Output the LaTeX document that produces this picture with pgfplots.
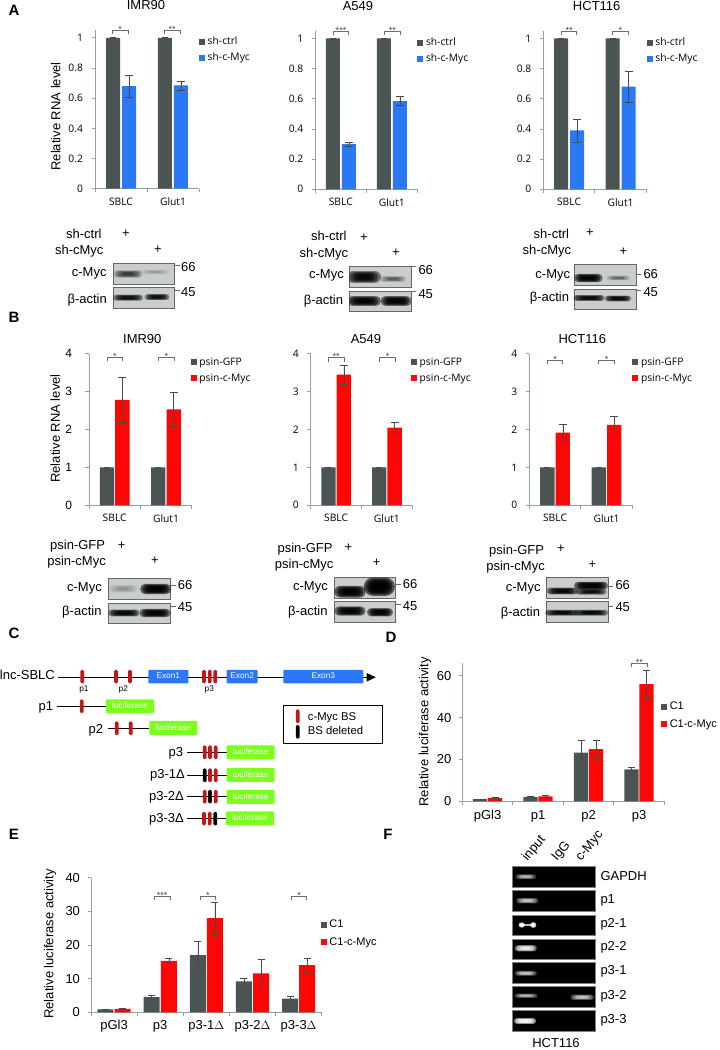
\documentclass[border=0pt]{standalone}
\usepackage{pgfplots}
\pgfplotsset{compat=1.18}
\usepackage{fontspec}
\setmainfont{Liberation Sans}
\newfontfamily\os{Open Sans}
\newcommand\fa{\os\fontsize{10.3}{12}\selectfont}
\newcommand\fb{\fontsize{13}{15}\selectfont}
\newcommand\fc{\fontsize{11}{13}\selectfont}
\definecolor{dk}{HTML}{4A5454}
\definecolor{blu}{HTML}{2A78F5}
\definecolor{rd}{HTML}{FF0505}
\definecolor{axc}{HTML}{8FA3A3}
\definecolor{errc}{HTML}{4A4A4A}
\definecolor{mk}{HTML}{C01818}
\definecolor{lim}{HTML}{7CFF1E}
\definecolor{gelbg}{HTML}{C9CDCD}
\pgfplotsset{
 base/.style={scale only axis,axis x line=bottom,axis y line=left,
  axis line style={-,axc,line width=.8pt},tick style={axc,line width=.8pt},
  tick align=outside,major tick length=3.5pt,minor tick length=3.5pt,
  major x tick style={draw=none},xmin=0,ymin=0,clip=false,
  /pgf/number format/assume math mode=true,
  legend cell align=left},
 leg/.style n args={3}{legend style={at={(axis description cs:#1,#2)},anchor=north west,draw=none,fill=none,inner sep=0pt,outer sep=0pt,row sep=#3,
  /tikz/every odd column/.append style={column sep=2.7pt},
  nodes={inner sep=0pt,text height=8pt,text depth=2pt}}},
 eb/.style 2 args={error bars/.cd,y dir=both,y explicit,error bar style={errc,line width=.5pt,xshift=#2},error mark options={errc,rotate=90,mark size=#1,line width=.5pt}},
 serD/.style={ybar,fill=dk,draw=none,legend image code/.code={\fill[dk] (0pt,-3pt) rectangle (6pt,3pt);}},
 serB/.style={ybar,fill=blu,draw=none,legend image code/.code={\fill[blu] (0pt,-3pt) rectangle (6pt,3pt);}},
 serR/.style={ybar,fill=rd,draw=none,legend image code/.code={\fill[rd] (0pt,-3pt) rectangle (6pt,3pt);}},
 chartA/.style={base,xmax=2,ymax=1.051,height=158.5pt,ytick={0,0.2,0.4,0.6,0.8,1},
  xtick={0.5,1.5},xticklabels={SBLC,Glut1},minor xtick={0,1,2},
  xticklabel style={font=\fa,yshift=-2pt},yticklabel style={font=\fa,xshift=-5pt},
  legend style={font=\fa},legend entries={sh-ctrl,sh-c-Myc},bar width=14pt},
 chartB/.style={base,xmax=2,ymax=4,height=151.6pt,ytick={0,1,2,3,4},
  xtick={0.5,1.5},xticklabels={SBLC,Glut1},minor xtick={0,1,2},
  xticklabel style={font=\fa,yshift=-2pt},yticklabel style={font=\fa,xshift=-5pt},
  legend style={font=\fa},legend entries={psin-GFP,psin-c-Myc},bar width=14.3pt},
}
\tikzset{
 tx/.style={inner sep=0pt,text height=9.3pt,text depth=2.7pt,font=\fb},
 txs/.style={inner sep=0pt,text height=6pt,text depth=1.6pt,font=\fontsize{8.3}{10}\selectfont},
}
\newcommand\brk[5]{\draw[gray!85!black,line width=.5pt] (#1,#4) -- (#1,#3) -- (#2,#3) -- (#2,#4);
 \node[inner sep=0pt,font=\fontsize{9}{10}\selectfont,text=black!75] at ({(#1+#2)/2},#3-1) {#5};}
\newcommand\rt[3]{\node[tx,anchor=east] at (#1,#2) {#3};}
\newcommand\lf[3]{\node[tx,anchor=west] at (#1,#2) {#3};}
\newcommand\ct[3]{\node[tx,anchor=center] at (#1,#2) {#3};}
\newcommand\band[6]{\foreach \k in {1.3,1.1,.9,.7,.5}{\fill[#5,opacity=#6,rounded corners={#4*\k pt}] ({#1-#3*\k},{#2-#4*\k}) rectangle ({#1+#3*\k},{#2+#4*\k});}}
\newcommand\gel[5][gelbg]{\fill[#1] (#2,#4) rectangle (#3,#5);\draw[black!60,line width=.5pt] (#2,#4) rectangle (#3,#5);}
\newcommand\agel[4]{\fill[black] (#1,#3) rectangle (#2,#4);\draw[black!50,line width=.5pt] (#1,#3) rectangle (#2,#4);}
\newcommand\mw[6]{% x1 tick y66 text y66 tick y45 text y45 textx
 \draw[black!60,line width=.5pt] (#1,#2) -- (#1+5,#2); \draw[black!60,line width=.5pt] (#1,#4) -- (#1+5,#4);
 \lf{#6}{#3}{66}\lf{#6}{#5}{45}}
\newcommand\m[3]{\fill[#3,rounded corners=1.4pt] (#1-1.9,#2-6.8) rectangle (#1+1.9,#2+6.8);}
\newcommand\luc[3]{\fill[lim,rounded corners=.8pt] (#1,#2) rectangle (#1+48,#2+14);\node[txs,text=white] at (#1+24,#2+7) {#3};}
\newcommand\exon[3]{\fill[blu,rounded corners=.8pt] (#1,670) rectangle (#2,683.3);\node[txs,text=white] at ({(#1+#2)/2},676.3) {#3};}
\begin{document}
\begin{tikzpicture}
\path[use as bounding box] (0pt,0pt) rectangle (720pt,1050pt);
% ---- Panel A
\begin{axis}[chartA,at={(95pt,861.3pt)},anchor=south west,width=104pt,leg={1.0}{.958}{6pt},
 ylabel={Relative RNA level},ylabel style={at={(axis description cs:-.378,.456)},anchor=center,font=\fb}]
\addplot[serD,bar shift=-8pt,eb={3pt}{-8pt}] coordinates {(0.5,1)+-(0,0.002) (1.5,1)+-(0,0.002)};
\addplot[serB,bar shift=8pt,eb={4pt}{8pt}] coordinates {(0.5,0.68)+-(0,0.075) (1.5,0.685)+-(0,0.03)};
\end{axis}
\begin{axis}[chartA,at={(315.3pt,860.7pt)},anchor=south west,width=102pt,leg={1.0}{.955}{6pt}]
\addplot[serD,bar shift=-8pt,eb={3pt}{-8pt}] coordinates {(0.5,1)+-(0,0.002) (1.5,1)+-(0,0.002)};
\addplot[serB,bar shift=8pt,eb={4pt}{8pt}] coordinates {(0.5,0.30)+-(0,0.015) (1.5,0.585)+-(0,0.03)};
\end{axis}
\begin{axis}[chartA,at={(543.3pt,860.7pt)},anchor=south west,width=103pt,leg={1.004}{.955}{6pt}]
\addplot[serD,bar shift=-8pt,eb={3pt}{-8pt}] coordinates {(0.5,1)+-(0,0.002) (1.5,1)+-(0,0.002)};
\addplot[serB,bar shift=8pt,eb={4pt}{8pt}] coordinates {(0.5,0.39)+-(0,0.077) (1.5,0.68)+-(0,0.103)};
\end{axis}
% ---- Panel B
\begin{axis}[chartB,at={(89pt,544.7pt)},anchor=south west,width=102.7pt,leg={.99}{.976}{6pt},
 yticklabel style={font=\fontsize{12}{14}\selectfont,xshift=-5pt},
 ylabel={Relative RNA level},ylabel style={at={(axis description cs:-.33,.507)},anchor=center,font=\fb}]
\addplot[serD,bar shift=-7.7pt,eb={3pt}{-7.7pt}] coordinates {(0.5,1)+-(0,0.005) (1.5,1)+-(0,0.005)};
\addplot[serR,bar shift=7.7pt,eb={4pt}{7.7pt}] coordinates {(0.5,2.78)+-(0,0.59) (1.5,2.53)+-(0,0.44)};
\end{axis}
\begin{axis}[chartB,at={(310.7pt,544.7pt)},anchor=south west,width=101.6pt,leg={.987}{.976}{6pt}]
\addplot[serD,bar shift=-7.7pt,eb={3pt}{-7.7pt}] coordinates {(0.5,1)+-(0,0.005) (1.5,1)+-(0,0.005)};
\addplot[serR,bar shift=7.7pt,eb={4pt}{7.7pt}] coordinates {(0.5,3.45)+-(0,0.25) (1.5,2.05)+-(0,0.14)};
\end{axis}
\begin{axis}[chartB,at={(529.3pt,544.7pt)},anchor=south west,width=103pt,leg={1.0}{.976}{6pt}]
\addplot[serD,bar shift=-7.7pt,eb={3pt}{-7.7pt}] coordinates {(0.5,1)+-(0,0.005) (1.5,1)+-(0,0.005)};
\addplot[serR,bar shift=7.7pt,eb={4pt}{7.7pt}] coordinates {(0.5,1.92)+-(0,0.22) (1.5,2.12)+-(0,0.22)};
\end{axis}
% ---- Panel D
\begin{axis}[base,at={(462.3pt,248.7pt)},anchor=south west,width=202pt,height=138pt,xmax=4,ymax=66,
 ytick={0,20,40,60},xtick={0.5,1.5,2.5,3.5},xticklabels={pGl3,p1,p2,p3},minor xtick={0,1,2,3,4},
 xticklabel style={font=\fb,yshift=-2pt},yticklabel style={font=\fb,xshift=-4pt},bar width=14.3pt,
 legend style={font=\fc},legend entries={C1,C1-c-Myc},leg={.984}{.72}{7.4pt},
 ylabel={Relative luciferase activity},ylabel style={at={(axis description cs:-.185,.504)},anchor=center,font=\fb}]
\addplot[serD,bar shift=-7.5pt,eb={3.5pt}{-7.5pt}] coordinates {(0.5,1)+-(0,0.1) (1.5,2)+-(0,0.2) (2.5,23.3)+-(0,5.8) (3.5,15.3)+-(0,1)};
\addplot[serR,bar shift=7.5pt,eb={3.5pt}{7.5pt}] coordinates {(0.5,1.6)+-(0,0.2) (1.5,2.4)+-(0,0.7) (2.5,24.9)+-(0,4.5) (3.5,56)+-(0,6.8)};
\end{axis}
% ---- Panel E
\begin{axis}[base,at={(91pt,37.7pt)},anchor=south west,width=230.7pt,height=134.6pt,xmax=5,ymax=40,
 ytick={0,10,20,30,40},xtick={0.5,1.5,2.5,3.5,4.5},xticklabels={pGl3,p3,p3-1$\Delta$,p3-2$\Delta$,p3-3$\Delta$},minor xtick={0,1,2,3,4,5},
 xticklabel style={font=\fb,yshift=-1pt},yticklabel style={font=\fb,xshift=-4pt},bar width=16pt,
 legend style={font=\fc},legend entries={C1,C1-c-Myc},leg={.996}{.686}{7.4pt},
 ylabel={Relative luciferase activity},ylabel style={at={(axis description cs:-.178,.508)},anchor=center,font=\fb}]
\addplot[serD,bar shift=-8.6pt,eb={3.5pt}{-8.6pt}] coordinates {(0.5,0.9)+-(0,0.1) (1.5,4.5)+-(0,0.5) (2.5,17)+-(0,4) (3.5,9.2)+-(0,0.9) (4.5,4.1)+-(0,0.6)};
\addplot[serR,bar shift=8.6pt,eb={3.5pt}{8.6pt}] coordinates {(0.5,1)+-(0,0.2) (1.5,15.3)+-(0,0.7) (2.5,28)+-(0,4.7) (3.5,11.6)+-(0,4.3) (4.5,14)+-(0,2.2)};
\end{axis}
% ---- annotations in reference pixel coordinates
\begin{scope}[x=1pt,y=-1pt,yshift=1050pt]
% panel letters
\foreach \xx/\yy/\ll in {14/10/A,14/317/B,14/633/C,391/637/D,14/834/E,388/834/F}{\node[inner sep=0pt,font=\bfseries\fontsize{15}{16}\selectfont] at (\xx,\yy) {\ll};}
% titles
\ct{146}{6.7}{IMR90}\ct{358}{7}{A549}\ct{596.7}{7}{HCT116}
\ct{142.3}{340}{IMR90}\ct{366}{340}{A549}\ct{582.3}{340}{HCT116}
% brackets A
\brk{112.3}{128}{30.7}{34.5}{*}\brk{164.3}{180}{30.7}{34.5}{**}
\brk{333.3}{348.7}{31.3}{35}{***}\brk{384.3}{400.3}{31.3}{35}{**}
\brk{561.3}{576.7}{31.3}{35}{**}\brk{612.3}{628.3}{31.3}{35}{*}
% brackets B
\brk{107.3}{122.7}{357}{361.3}{*}\brk{158.3}{174.3}{357}{361.3}{*}
\brk{328.3}{344}{357.7}{362}{**}\brk{379.3}{395.7}{357.7}{362}{*}
\brk{547.3}{562.7}{360}{363.7}{*}\brk{598.3}{614.7}{360}{363.7}{*}
% bracket D, E
\brk{631.7}{647}{663.3}{666.7}{**}
\brk{154.3}{170}{896}{900}{***}\brk{200}{215.7}{896}{900}{*}\brk{291.3}{306.7}{896}{900}{*}
% --- blots A1
\rt{101.7}{235}{sh-ctrl}\ct{126}{234}{+}\rt{103.7}{251.7}{sh-cMyc}\ct{158}{250.7}{+}
\rt{106.7}{273}{c-Myc}\rt{107}{300}{β-actin}
\gel{113}{174.7}{263.3}{284}\gel{113}{174.7}{287.7}{308.3}
\band{128}{274}{11}{2.8}{black}{.22}\band{155}{272}{11}{1.8}{black}{.05}
\band{128}{297.7}{11.5}{2.3}{black}{.4}\band{157}{297}{9.5}{2.3}{black}{.4}
\mw{174.7}{265.7}{268.7}{290.7}{293}{181}
% --- blots A2
\rt{346.7}{237.7}{sh-ctrl}\ct{364}{238.7}{+}\rt{348.3}{254}{sh-cMyc}\ct{396}{253.3}{+}
\rt{344}{275.3}{c-Myc}\rt{343.3}{301.7}{β-actin}
\gel{349.3}{411}{266.7}{287.3}\gel{349.3}{411}{291}{311.7}
\begin{scope}\clip (349.3,266.7) rectangle (411,311.7);
\band{364}{277}{13}{4.5}{black}{.45}\band{393}{279}{10}{2.2}{black}{.14}
\band{364}{301}{13}{3.8}{black}{.5}\band{396}{301}{12}{3.8}{black}{.5}
\end{scope}
\mw{411}{266.7}{271.3}{291.7}{295.3}{418.3}
% --- blots A3
\rt{569.3}{235}{sh-ctrl}\ct{590}{233.3}{+}\rt{571.3}{251.3}{sh-cMyc}\ct{623.3}{252.3}{+}
\rt{570.3}{275.3}{c-Myc}\rt{569.3}{298.3}{β-actin}
\gel{574.3}{636}{264}{285}\gel{574.3}{636}{289}{309.3}
\band{588.3}{278}{11}{3.2}{black}{.5}\band{618.3}{278}{9}{1.8}{black}{.12}
\band{589}{298}{12}{2.2}{black}{.45}\band{618}{298.5}{10}{2.2}{black}{.45}
\mw{636}{274}{275}{290}{293.3}{643.3}
% --- blots B1
\rt{105.3}{546.7}{psin-GFP}\ct{121.7}{546.7}{+}\rt{106}{562.7}{psin-cMyc}\ct{155}{561.7}{+}
\rt{102}{588.7}{c-Myc}\rt{101.7}{612.7}{β-actin}
\gel{108.7}{170.7}{578.3}{599.3}\gel{108.7}{170.7}{603.3}{623.7}
\band{123.3}{588.7}{11}{2.8}{black}{.06}\band{155.7}{589}{12}{4}{black}{.55}
\band{124}{613}{12}{2.6}{black}{.45}\band{155}{613}{12}{3.2}{black}{.5}
\mw{170.7}{585.7}{586.7}{606.7}{608.7}{177.7}
% --- blots B2
\rt{332.7}{549.3}{psin-GFP}\ct{348.3}{548.3}{+}\rt{333.7}{565}{psin-cMyc}\ct{376.7}{563.3}{+}
\rt{328}{587.3}{c-Myc}\rt{327.7}{612.7}{β-actin}
\gel{334.3}{395.7}{577.3}{598.3}\gel{334.3}{395.7}{601}{622.7}
\band{350}{591.7}{12}{4.5}{black}{.55}\band{379.3}{586.7}{12}{7}{black}{.6}
\band{350}{611}{12}{3.6}{black}{.5}\band{380}{612.3}{10}{3.2}{black}{.5}
\mw{395.7}{584}{585}{604.3}{607}{402.7}
% --- blots B3
\rt{544.3}{551}{psin-GFP}\ct{561}{549.3}{+}\rt{545}{567.7}{psin-cMyc}\ct{592.3}{565.7}{+}
\rt{540.7}{588.3}{c-Myc}\rt{540.3}{613.3}{β-actin}
\gel{546}{608}{577.7}{598.7}\gel{546}{608}{601.3}{622.7}
\band{562.3}{591}{12}{2.6}{black}{.45}\band{591}{585.7}{13}{3}{black}{.55}\band{591}{591.7}{12}{2.2}{black}{.4}
\band{562}{612.7}{13}{2.2}{black}{.45}\band{591}{612.7}{13}{2.2}{black}{.45}
\mw{608}{586.3}{586.7}{606.7}{608}{615.3}
% --- panel C
\draw[black,line width=.7pt] (58.3,677.3) -- (367,677.3);
\fill[black] (366.7,673) -- (375.7,677.3) -- (366.7,681.6) -- cycle;
\rt{55}{676.7}{lnc-SBLC}
\exon{148.3}{188.3}{Exon1}\exon{226.7}{257.7}{Exon2}\exon{283.3}{363.3}{Exon3}
\foreach \xx in {82.3,116,130,204,209.7,215.3}{\m{\xx}{676.7}{mk}}
\node[txs] at (84,689.3) {p1};\node[txs] at (123.3,689.3) {p2};\node[txs] at (209.3,689.3) {p3};
% p1
\rt{53.3}{707.7}{p1}\draw[line width=.7pt] (57.3,706.3) -- (106,706.3);\m{81.7}{706.3}{mk}\luc{106}{699.3}{luciferase}
% p2
\rt{103.3}{730}{p2}\draw[line width=.7pt] (107.7,728.3) -- (149.3,728.3);\m{116.7}{728.3}{mk}\m{130.7}{728.3}{mk}\luc{149.3}{721}{luciferase}
% p3
\rt{183.3}{753.3}{p3}\draw[line width=.7pt] (187.3,752.3) -- (226.7,752.3);\m{204.7}{752.3}{mk}\m{210}{752.3}{mk}\m{215.7}{752.3}{mk}\luc{226.7}{745.3}{luciferase}
\rt{185}{775.7}{p3-1Δ}\draw[line width=.7pt] (187.3,775.3) -- (226.7,775.3);\m{204.7}{775.3}{black}\m{210}{775.3}{mk}\m{215.7}{775.3}{mk}\luc{226.7}{768}{luciferase}
\rt{184}{797.7}{p3-2Δ}\draw[line width=.7pt] (187.3,796.7) -- (226.7,796.7);\m{204.7}{796.7}{mk}\m{210}{796.7}{black}\m{215.7}{796.7}{mk}\luc{226.7}{790}{luciferase}
\rt{184}{819}{p3-3Δ}\draw[line width=.7pt] (187,818.7) -- (226,818.7);\m{204}{818.7}{mk}\m{209.7}{818.7}{mk}\m{215.3}{818.7}{black}\luc{226}{811.3}{luciferase}
% legend box
\draw[black,line width=1pt] (283.3,705.3) rectangle (382,743.3);
\m{297.7}{716.3}{mk}\m{297.7}{731.8}{black}
\node[inner sep=0pt,anchor=west,font=\fontsize{11.3}{13}\selectfont,text height=8pt,text depth=2.4pt] at (307.7,717.3) {c-Myc BS};
\node[inner sep=0pt,anchor=west,font=\fontsize{11.3}{13}\selectfont,text height=8pt,text depth=2.4pt] at (307.7,731.7) {BS deleted};
% --- panel F
\agel{512.7}{595}{866.7}{887.3}\agel{512.7}{595}{890.7}{911.7}\agel{512.7}{595}{915}{935.3}\agel{512.7}{595}{939}{959.3}
\agel{512.7}{595}{962.7}{983.3}\agel{512.7}{595}{986.7}{1007.3}\agel{512.7}{595}{1010.7}{1031.7}
\band{525.7}{876.7}{8}{1.8}{white}{.22}
\band{527.3}{900.7}{8.5}{2}{white}{.25}
\band{521.7}{925}{2.4}{2}{white}{.6}\band{533.3}{925}{2.4}{2.2}{white}{.6}\band{527.5}{925}{6}{.7}{white}{.35}
\band{525.7}{948.3}{8.5}{2.4}{white}{.4}
\band{525.7}{973.3}{8.5}{1.8}{white}{.25}
\band{526}{995.7}{9}{1.6}{white}{.22}\band{582.3}{997.3}{9}{2}{white}{.25}
\band{525}{1021}{8.5}{2.2}{white}{.5}
\foreach \nm/\yy in {GAPDH/877.7,p1/900.3,p2-1/924,p2-2/947.7,p3-1/971.7,p3-2/996,p3-3/1020}{\lf{600.3}{\yy}{\nm}}
\node[anchor=base west,inner sep=0pt,rotate=50,font=\fb] at (527.5,861.5) {input};
\node[anchor=base west,inner sep=0pt,rotate=50,font=\fb] at (557,861.5) {IgG};
\node[anchor=base west,inner sep=0pt,rotate=50,font=\fb] at (581,861.5) {c-Myc};
\ct{556}{1044}{HCT116}
\end{scope}
\end{tikzpicture}
\end{document}
